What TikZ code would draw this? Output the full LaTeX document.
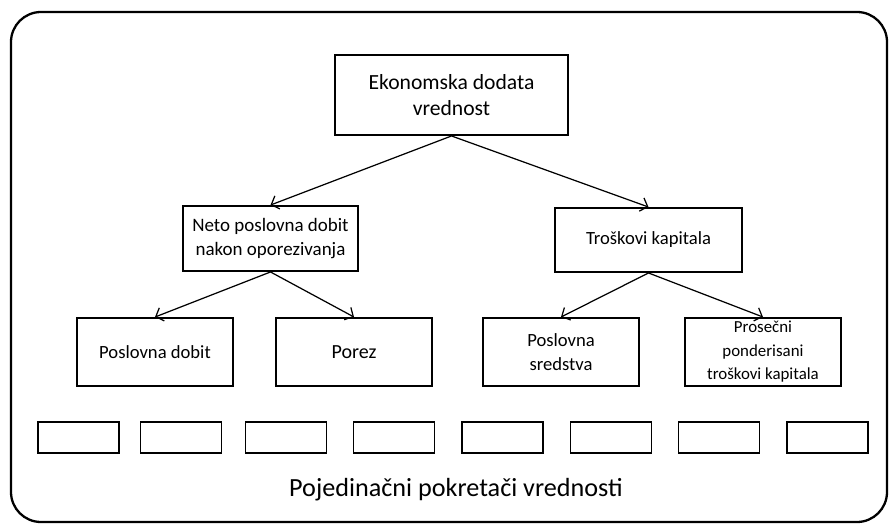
\documentclass[tikz,border=0pt]{standalone}
\usepackage{fontspec}
\setmainfont{Carlito}
\usetikzlibrary{arrows.meta}

\begin{document}
\begin{tikzpicture}[
    box/.style={draw, line width=1.1pt, inner sep=0pt, align=center, font=\fontsize{10.6}{13.6}\selectfont},
    slot/.style={draw, line width=1.1pt, minimum width=1.62cm, minimum height=0.62cm},
    >={Straight Barb[length=1.3mm, width=2.8mm]}
  ]
  \useasboundingbox (0, 0) rectangle (17.78, -10.48);

  % Frame
  \draw[line width=1.3pt, rounded corners=0.6cm] (0.22, -0.24) rectangle (17.74, -10.44);

  % Nodes
  \node[box, minimum width=4.66cm, minimum height=1.6cm, font=\fontsize{12.3}{14.4}\selectfont] (EVA) at (9.03, -1.90) {Ekonomska dodata\\vrednost};
  \node[box, minimum width=3.5cm, minimum height=1.3cm, font=\fontsize{10.8}{13.6}\selectfont] (NOPAT) at (5.41, -4.77) {Neto poslovna dobit\\nakon oporezivanja};
  \node[box, minimum width=3.74cm, minimum height=1.28cm] (CC) at (12.97, -4.80) {Troškovi kapitala};
  \node[box, minimum width=3.12cm, minimum height=1.36cm] (OP) at (3.10, -7.04) {Poslovna dobit};
  \node[box, minimum width=3.12cm, minimum height=1.36cm, font=\fontsize{11.4}{14}\selectfont] (TAX) at (7.08, -7.04) {Porez};
  \node[box, minimum width=3.12cm, minimum height=1.36cm] (CAP) at (11.22, -7.04) {Poslovna\\sredstva};
  \node[box, minimum width=3.12cm, minimum height=1.36cm, font=\fontsize{9.6}{13.4}\selectfont] (WACC) at (15.26, -7.04) {Prosečni\\ponderisani\\troškovi kapitala};

  % Arrows
  \draw[->, line width=0.7pt] (EVA.south) -- (NOPAT.north);
  \draw[->, line width=0.7pt] (EVA.south) -- (CC.north);
  \draw[->, line width=0.7pt] (NOPAT.south) -- (OP.north);
  \draw[->, line width=0.7pt] (NOPAT.south) -- (TAX.north);
  \draw[->, line width=0.7pt] (CC.south) -- (CAP.north);
  \draw[->, line width=0.7pt] (CC.south) -- (WACC.north);

  % Pokretaci
  \foreach \x [count=\i] in {1.57, 3.62, 5.72, 7.88, 10.05, 12.22, 14.38, 16.55}
    \node[slot] (D\i) at (\x, -8.75) {};
  \node[font=\fontsize{14.9}{18}\selectfont] (drivers) at (9.12, -9.80) {Pojedinačni pokretači vrednosti};
\end{tikzpicture}
\end{document}
